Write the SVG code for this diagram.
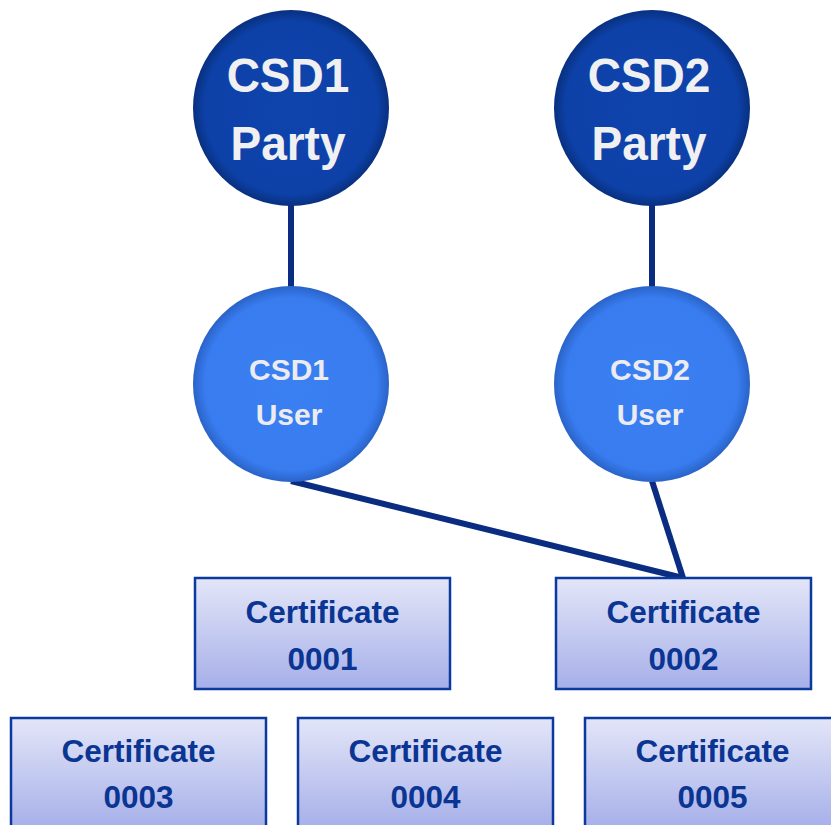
<svg xmlns="http://www.w3.org/2000/svg" width="831" height="825" viewBox="0 0 831 825">
  <defs>
    <radialGradient id="gParty" cx="50%" cy="50%" r="50%">
      <stop offset="0%" stop-color="#0f44ad"/>
      <stop offset="88%" stop-color="#0d41a8"/>
      <stop offset="100%" stop-color="#08307f"/>
    </radialGradient>
    <radialGradient id="gUser" cx="50%" cy="50%" r="50%">
      <stop offset="0%" stop-color="#3b80f2"/>
      <stop offset="88%" stop-color="#387cef"/>
      <stop offset="100%" stop-color="#2a63c8"/>
    </radialGradient>
    <linearGradient id="gBox" x1="0" y1="0" x2="0" y2="1">
      <stop offset="0%" stop-color="#e3e6f8"/>
      <stop offset="100%" stop-color="#a6afe9"/>
    </linearGradient>
  </defs>
  <style>
    .party { fill: url(#gParty); }
    .user { fill: url(#gUser); }
    .box { fill: url(#gBox); stroke: #0a3a9e; stroke-width: 2.5; }
    .conn { stroke: #0a2d82; stroke-width: 6; fill: none; stroke-linecap: butt; }
    .tp { font-family: "Liberation Sans", Arial, sans-serif; font-weight: bold; font-size: 46px; fill: #f0f0f2; text-anchor: middle; }
    .tu { font-family: "Liberation Sans", Arial, sans-serif; font-weight: bold; font-size: 30px; fill: #ececf0; text-anchor: middle; }
    .tb { font-family: "Liberation Sans", Arial, sans-serif; font-weight: bold; font-size: 31.5px; fill: #0a3593; text-anchor: middle; }
  </style>
  <rect width="831" height="825" fill="#ffffff"/>
  <g id="connectors">
    <line class="conn" x1="291" y1="204" x2="291" y2="288"/>
    <line class="conn" x1="652" y1="204" x2="652" y2="288"/>
    <line class="conn" x1="291" y1="481" x2="683" y2="578"/>
    <line class="conn" x1="652" y1="481" x2="683" y2="578"/>
  </g>
  <g id="csd1-party">
    <circle class="party" cx="291" cy="108" r="98"/>
    <text class="tp" x="288" y="92" transform="translate(0,92) scale(1,1.06) translate(0,-92)">CSD1</text>
    <text class="tp" x="288" y="160" transform="translate(0,160) scale(1,1.06) translate(0,-160)">Party</text>
  </g>
  <g id="csd2-party">
    <circle class="party" cx="652" cy="108" r="98"/>
    <text class="tp" x="649" y="92" transform="translate(0,92) scale(1,1.06) translate(0,-92)">CSD2</text>
    <text class="tp" x="649" y="160" transform="translate(0,160) scale(1,1.06) translate(0,-160)">Party</text>
  </g>
  <g id="csd1-user">
    <circle class="user" cx="291" cy="384" r="98"/>
    <text class="tu" x="289" y="380">CSD1</text>
    <text class="tu" x="289" y="425">User</text>
  </g>
  <g id="csd2-user">
    <circle class="user" cx="652" cy="384" r="98"/>
    <text class="tu" x="650" y="380">CSD2</text>
    <text class="tu" x="650" y="425">User</text>
  </g>
  <g id="cert-0001">
    <rect class="box" x="195" y="578" width="255" height="111"/>
    <text class="tb" x="322.5" y="623">Certificate</text>
    <text class="tb" x="322.5" y="670">0001</text>
  </g>
  <g id="cert-0002">
    <rect class="box" x="556" y="578" width="255" height="111"/>
    <text class="tb" x="683.5" y="623">Certificate</text>
    <text class="tb" x="683.5" y="670">0002</text>
  </g>
  <g id="cert-0003">
    <rect class="box" x="11" y="718" width="255" height="111"/>
    <text class="tb" x="138.5" y="762">Certificate</text>
    <text class="tb" x="138.5" y="808">0003</text>
  </g>
  <g id="cert-0004">
    <rect class="box" x="298" y="718" width="255" height="111"/>
    <text class="tb" x="425.5" y="762">Certificate</text>
    <text class="tb" x="425.5" y="808">0004</text>
  </g>
  <g id="cert-0005">
    <rect class="box" x="585" y="718" width="255" height="111"/>
    <text class="tb" x="712.5" y="762">Certificate</text>
    <text class="tb" x="712.5" y="808">0005</text>
  </g>
</svg>
